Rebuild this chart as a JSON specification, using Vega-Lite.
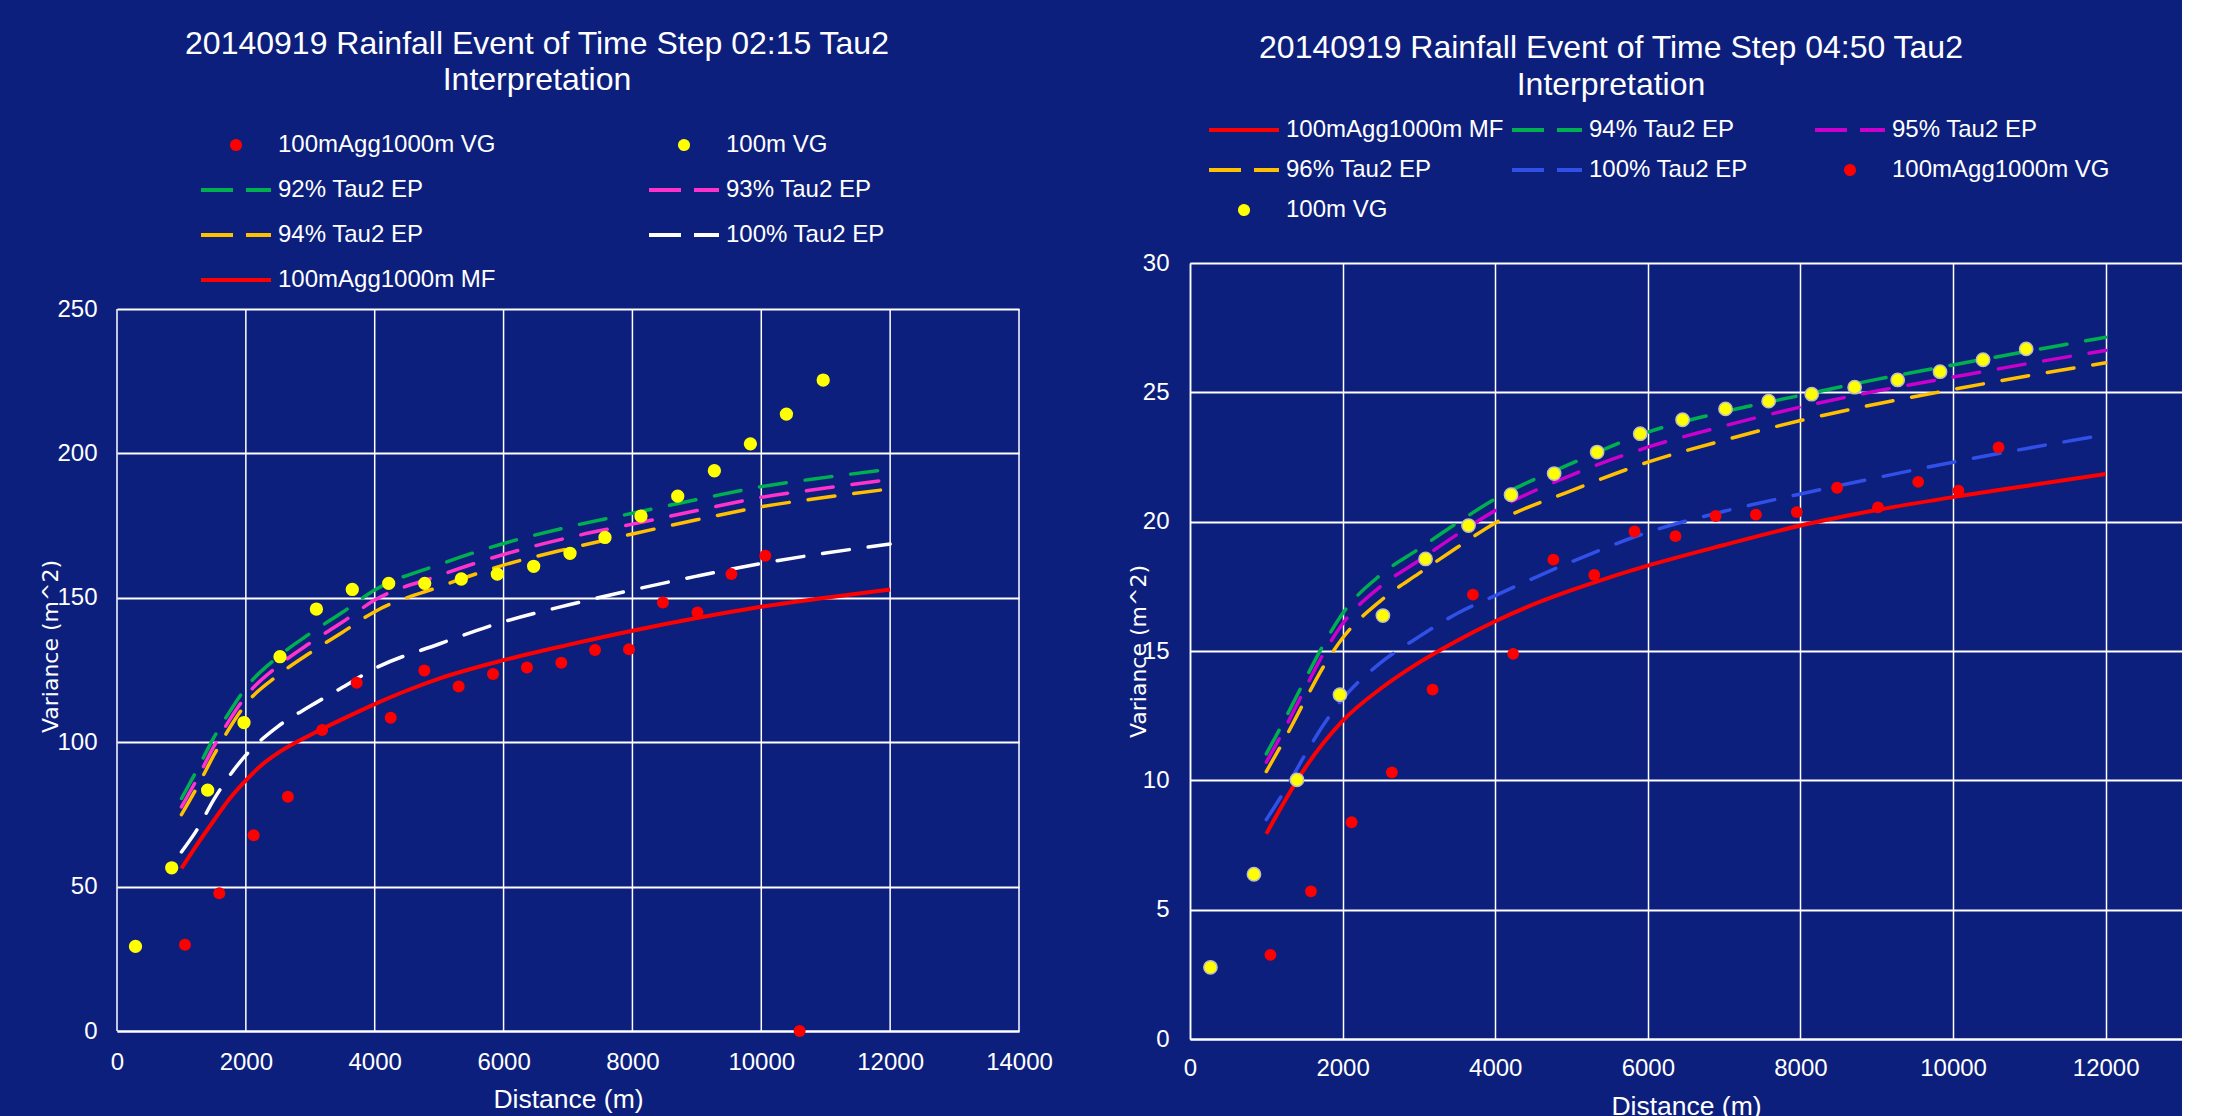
{
  "$schema": "https://vega.github.io/schema/vega-lite/v6.json",
  "background": "#0D1F7D",
  "padding": {"left": 39, "top": 28, "right": 0, "bottom": 0},
  "config": {
    "view": {"stroke": null},
    "font": "Liberation Sans",
    "axis": {
      "labelColor": "#FFFFFF", "titleColor": "#FFFFFF", "labelFont": "Liberation Sans", "labelFontSize": 24,
      "titleFont": "Liberation Sans", "titleFontWeight": "normal", "ticks": false, "tickSize": 0,
      "gridColor": "#FFFFFF", "domainColor": "#FFFFFF", "labelFlush": false, "labelOverlap": false
    },
    "title": {"color": "#FFFFFF", "font": "Liberation Sans", "fontSize": 32, "fontWeight": "normal", "anchor": "middle", "frame": "group"},
    "legend": {"labelColor": "#FFFFFF", "labelFont": "Liberation Sans", "labelFontSize": 24, "labelLimit": 600, "labelOffset": 30, "symbolSize": 400, "symbolStrokeWidth": 4, "symbolType": "M-3.5,0H3.5", "title": null, "gridAlign": "all"}
  },
  "datasets": {
    "left": [
      {"s": "grid", "d": 0, "v": 0}, {"s": "grid", "d": 0, "v": 250}, {"s": "grid", "d": 2000, "v": 0}, {"s": "grid", "d": 2000, "v": 250}, {"s": "grid", "d": 4000, "v": 0}, {"s": "grid", "d": 4000, "v": 250}, {"s": "grid", "d": 6000, "v": 0}, {"s": "grid", "d": 6000, "v": 250}, {"s": "grid", "d": 8000, "v": 0}, {"s": "grid", "d": 8000, "v": 250}, {"s": "grid", "d": 10000, "v": 0}, {"s": "grid", "d": 10000, "v": 250}, {"s": "grid", "d": 12000, "v": 0}, {"s": "grid", "d": 12000, "v": 250}, {"s": "grid", "d": 14000, "v": 0}, {"s": "grid", "d": 14000, "v": 250},
      {"s": "100m VG", "d": 287, "v": 29.3}, {"s": "100m VG", "d": 849, "v": 56.5}, {"s": "100m VG", "d": 1407, "v": 83.4}, {"s": "100m VG", "d": 1971, "v": 106.8}, {"s": "100m VG", "d": 2530, "v": 129.6}, {"s": "100m VG", "d": 3095, "v": 146.1}, {"s": "100m VG", "d": 3652, "v": 152.9}, {"s": "100m VG", "d": 4217, "v": 155.0}, {"s": "100m VG", "d": 4776, "v": 155.0}, {"s": "100m VG", "d": 5344, "v": 156.5}, {"s": "100m VG", "d": 5903, "v": 158.2}, {"s": "100m VG", "d": 6467, "v": 160.9}, {"s": "100m VG", "d": 7031, "v": 165.4}, {"s": "100m VG", "d": 7574, "v": 170.9}, {"s": "100m VG", "d": 8133, "v": 178.3}, {"s": "100m VG", "d": 8703, "v": 185.2}, {"s": "100m VG", "d": 9272, "v": 194.0}, {"s": "100m VG", "d": 9831, "v": 203.3}, {"s": "100m VG", "d": 10390, "v": 213.6}, {"s": "100m VG", "d": 10961, "v": 225.4},
      {"s": "100mAgg1000m VG", "d": 1055, "v": 29.9}, {"s": "100mAgg1000m VG", "d": 1588, "v": 47.7}, {"s": "100mAgg1000m VG", "d": 2121, "v": 67.8}, {"s": "100mAgg1000m VG", "d": 2652, "v": 81.1}, {"s": "100mAgg1000m VG", "d": 3184, "v": 104.2}, {"s": "100mAgg1000m VG", "d": 3720, "v": 120.6}, {"s": "100mAgg1000m VG", "d": 4248, "v": 108.5}, {"s": "100mAgg1000m VG", "d": 4770, "v": 124.8}, {"s": "100mAgg1000m VG", "d": 5303, "v": 119.3}, {"s": "100mAgg1000m VG", "d": 5836, "v": 123.6}, {"s": "100mAgg1000m VG", "d": 6363, "v": 125.9}, {"s": "100mAgg1000m VG", "d": 6896, "v": 127.5}, {"s": "100mAgg1000m VG", "d": 7419, "v": 131.9}, {"s": "100mAgg1000m VG", "d": 7947, "v": 132.2}, {"s": "100mAgg1000m VG", "d": 8473, "v": 148.4}, {"s": "100mAgg1000m VG", "d": 9010, "v": 144.9}, {"s": "100mAgg1000m VG", "d": 9536, "v": 158.2}, {"s": "100mAgg1000m VG", "d": 10062, "v": 164.6}, {"s": "100mAgg1000m VG", "d": 10595, "v": 0},
      {"s": "92% Tau2 EP", "d": 1000, "v": 80.5}, {"s": "92% Tau2 EP", "d": 1250, "v": 90.7}, {"s": "92% Tau2 EP", "d": 1500, "v": 101.5}, {"s": "92% Tau2 EP", "d": 1750, "v": 110.6}, {"s": "92% Tau2 EP", "d": 2000, "v": 118.8}, {"s": "92% Tau2 EP", "d": 2500, "v": 129.6}, {"s": "92% Tau2 EP", "d": 3000, "v": 137.7}, {"s": "92% Tau2 EP", "d": 3500, "v": 145.0}, {"s": "92% Tau2 EP", "d": 4000, "v": 152.7}, {"s": "92% Tau2 EP", "d": 5000, "v": 161.5}, {"s": "92% Tau2 EP", "d": 6000, "v": 168.8}, {"s": "92% Tau2 EP", "d": 7000, "v": 174.5}, {"s": "92% Tau2 EP", "d": 8000, "v": 179.3}, {"s": "92% Tau2 EP", "d": 9000, "v": 184.0}, {"s": "92% Tau2 EP", "d": 10000, "v": 188.5}, {"s": "92% Tau2 EP", "d": 11000, "v": 191.7}, {"s": "92% Tau2 EP", "d": 12000, "v": 194.5},
      {"s": "93% Tau2 EP", "d": 1000, "v": 77.6}, {"s": "93% Tau2 EP", "d": 1250, "v": 87.6}, {"s": "93% Tau2 EP", "d": 1500, "v": 98.4}, {"s": "93% Tau2 EP", "d": 1750, "v": 107.8}, {"s": "93% Tau2 EP", "d": 2000, "v": 115.9}, {"s": "93% Tau2 EP", "d": 2500, "v": 126.4}, {"s": "93% Tau2 EP", "d": 3000, "v": 134.4}, {"s": "93% Tau2 EP", "d": 3500, "v": 141.6}, {"s": "93% Tau2 EP", "d": 4000, "v": 149.2}, {"s": "93% Tau2 EP", "d": 5000, "v": 157.7}, {"s": "93% Tau2 EP", "d": 6000, "v": 165.0}, {"s": "93% Tau2 EP", "d": 7000, "v": 170.8}, {"s": "93% Tau2 EP", "d": 8000, "v": 175.5}, {"s": "93% Tau2 EP", "d": 9000, "v": 180.2}, {"s": "93% Tau2 EP", "d": 10000, "v": 184.8}, {"s": "93% Tau2 EP", "d": 11000, "v": 188.0}, {"s": "93% Tau2 EP", "d": 12000, "v": 191.0},
      {"s": "94% Tau2 EP", "d": 1000, "v": 74.9}, {"s": "94% Tau2 EP", "d": 1250, "v": 84.7}, {"s": "94% Tau2 EP", "d": 1500, "v": 95.4}, {"s": "94% Tau2 EP", "d": 1750, "v": 105.0}, {"s": "94% Tau2 EP", "d": 2000, "v": 113.2}, {"s": "94% Tau2 EP", "d": 2500, "v": 123.2}, {"s": "94% Tau2 EP", "d": 3000, "v": 131.0}, {"s": "94% Tau2 EP", "d": 3500, "v": 138.1}, {"s": "94% Tau2 EP", "d": 4000, "v": 145.2}, {"s": "94% Tau2 EP", "d": 5000, "v": 153.8}, {"s": "94% Tau2 EP", "d": 6000, "v": 161.3}, {"s": "94% Tau2 EP", "d": 7000, "v": 167.0}, {"s": "94% Tau2 EP", "d": 8000, "v": 172.1}, {"s": "94% Tau2 EP", "d": 9000, "v": 177.0}, {"s": "94% Tau2 EP", "d": 10000, "v": 181.5}, {"s": "94% Tau2 EP", "d": 11000, "v": 184.8}, {"s": "94% Tau2 EP", "d": 12000, "v": 187.7},
      {"s": "100% Tau2 EP", "d": 1000, "v": 62.0}, {"s": "100% Tau2 EP", "d": 1250, "v": 70.0}, {"s": "100% Tau2 EP", "d": 1500, "v": 80.0}, {"s": "100% Tau2 EP", "d": 1750, "v": 88.5}, {"s": "100% Tau2 EP", "d": 2000, "v": 95.5}, {"s": "100% Tau2 EP", "d": 2500, "v": 105.5}, {"s": "100% Tau2 EP", "d": 3000, "v": 112.5}, {"s": "100% Tau2 EP", "d": 3500, "v": 119.0}, {"s": "100% Tau2 EP", "d": 4000, "v": 125.5}, {"s": "100% Tau2 EP", "d": 5000, "v": 134.0}, {"s": "100% Tau2 EP", "d": 6000, "v": 141.7}, {"s": "100% Tau2 EP", "d": 7000, "v": 147.5}, {"s": "100% Tau2 EP", "d": 8000, "v": 152.7}, {"s": "100% Tau2 EP", "d": 9000, "v": 157.5}, {"s": "100% Tau2 EP", "d": 10000, "v": 161.9}, {"s": "100% Tau2 EP", "d": 11000, "v": 165.5}, {"s": "100% Tau2 EP", "d": 12000, "v": 168.6},
      {"s": "100mAgg1000m MF", "d": 1000, "v": 56.3}, {"s": "100mAgg1000m MF", "d": 1250, "v": 64.8}, {"s": "100mAgg1000m MF", "d": 1500, "v": 72.8}, {"s": "100mAgg1000m MF", "d": 1750, "v": 80.5}, {"s": "100mAgg1000m MF", "d": 2000, "v": 86.8}, {"s": "100mAgg1000m MF", "d": 2250, "v": 92.2}, {"s": "100mAgg1000m MF", "d": 2500, "v": 96.3}, {"s": "100mAgg1000m MF", "d": 3000, "v": 102.5}, {"s": "100mAgg1000m MF", "d": 3500, "v": 108.0}, {"s": "100mAgg1000m MF", "d": 4000, "v": 113.2}, {"s": "100mAgg1000m MF", "d": 4500, "v": 117.9}, {"s": "100mAgg1000m MF", "d": 5000, "v": 122.0}, {"s": "100mAgg1000m MF", "d": 6000, "v": 128.4}, {"s": "100mAgg1000m MF", "d": 7000, "v": 133.7}, {"s": "100mAgg1000m MF", "d": 8000, "v": 138.6}, {"s": "100mAgg1000m MF", "d": 9000, "v": 143.0}, {"s": "100mAgg1000m MF", "d": 10000, "v": 146.9}, {"s": "100mAgg1000m MF", "d": 11000, "v": 150.0}, {"s": "100mAgg1000m MF", "d": 12000, "v": 152.9}
    ],
    "right": [
      {"s": "100m VG", "d": 268, "v": 2.77}, {"s": "100m VG", "d": 838, "v": 6.37}, {"s": "100m VG", "d": 1402, "v": 10.02}, {"s": "100m VG", "d": 1965, "v": 13.31}, {"s": "100m VG", "d": 2528, "v": 16.37}, {"s": "100m VG", "d": 3087, "v": 18.56}, {"s": "100m VG", "d": 3650, "v": 19.85}, {"s": "100m VG", "d": 4207, "v": 21.04}, {"s": "100m VG", "d": 4772, "v": 21.86}, {"s": "100m VG", "d": 5335, "v": 22.69}, {"s": "100m VG", "d": 5900, "v": 23.40}, {"s": "100m VG", "d": 6455, "v": 23.94}, {"s": "100m VG", "d": 7018, "v": 24.36}, {"s": "100m VG", "d": 7583, "v": 24.66}, {"s": "100m VG", "d": 8147, "v": 24.93}, {"s": "100m VG", "d": 8710, "v": 25.20}, {"s": "100m VG", "d": 9274, "v": 25.48}, {"s": "100m VG", "d": 9829, "v": 25.80}, {"s": "100m VG", "d": 10393, "v": 26.26}, {"s": "100m VG", "d": 10958, "v": 26.68},
      {"s": "100mAgg1000m VG", "d": 1054, "v": 3.25}, {"s": "100mAgg1000m VG", "d": 1585, "v": 5.71}, {"s": "100mAgg1000m VG", "d": 2118, "v": 8.38}, {"s": "100mAgg1000m VG", "d": 2646, "v": 10.31}, {"s": "100mAgg1000m VG", "d": 3179, "v": 13.51}, {"s": "100mAgg1000m VG", "d": 3707, "v": 17.18}, {"s": "100mAgg1000m VG", "d": 4235, "v": 14.89}, {"s": "100mAgg1000m VG", "d": 4762, "v": 18.53}, {"s": "100mAgg1000m VG", "d": 5298, "v": 17.94}, {"s": "100mAgg1000m VG", "d": 5825, "v": 19.62}, {"s": "100mAgg1000m VG", "d": 6362, "v": 19.44}, {"s": "100mAgg1000m VG", "d": 6888, "v": 20.22}, {"s": "100mAgg1000m VG", "d": 7416, "v": 20.27}, {"s": "100mAgg1000m VG", "d": 7952, "v": 20.37}, {"s": "100mAgg1000m VG", "d": 8480, "v": 21.31}, {"s": "100mAgg1000m VG", "d": 9016, "v": 20.55}, {"s": "100mAgg1000m VG", "d": 9543, "v": 21.54}, {"s": "100mAgg1000m VG", "d": 10070, "v": 21.20}, {"s": "100mAgg1000m VG", "d": 10596, "v": 22.87},
      {"s": "94% Tau2 EP", "d": 1000, "v": 11.02}, {"s": "94% Tau2 EP", "d": 1250, "v": 12.4}, {"s": "94% Tau2 EP", "d": 1500, "v": 13.85}, {"s": "94% Tau2 EP", "d": 1750, "v": 15.25}, {"s": "94% Tau2 EP", "d": 2000, "v": 16.45}, {"s": "94% Tau2 EP", "d": 2500, "v": 17.95}, {"s": "94% Tau2 EP", "d": 3000, "v": 18.95}, {"s": "94% Tau2 EP", "d": 3500, "v": 19.95}, {"s": "94% Tau2 EP", "d": 4000, "v": 20.88}, {"s": "94% Tau2 EP", "d": 5000, "v": 22.25}, {"s": "94% Tau2 EP", "d": 6000, "v": 23.46}, {"s": "94% Tau2 EP", "d": 7000, "v": 24.25}, {"s": "94% Tau2 EP", "d": 8000, "v": 24.88}, {"s": "94% Tau2 EP", "d": 9000, "v": 25.5}, {"s": "94% Tau2 EP", "d": 10000, "v": 26.06}, {"s": "94% Tau2 EP", "d": 11000, "v": 26.6}, {"s": "94% Tau2 EP", "d": 12000, "v": 27.13},
      {"s": "95% Tau2 EP", "d": 1000, "v": 10.70}, {"s": "95% Tau2 EP", "d": 1250, "v": 12.05}, {"s": "95% Tau2 EP", "d": 1500, "v": 13.5}, {"s": "95% Tau2 EP", "d": 1750, "v": 14.9}, {"s": "95% Tau2 EP", "d": 2000, "v": 16.05}, {"s": "95% Tau2 EP", "d": 2500, "v": 17.5}, {"s": "95% Tau2 EP", "d": 3000, "v": 18.5}, {"s": "95% Tau2 EP", "d": 3500, "v": 19.5}, {"s": "95% Tau2 EP", "d": 4000, "v": 20.43}, {"s": "95% Tau2 EP", "d": 5000, "v": 21.8}, {"s": "95% Tau2 EP", "d": 6000, "v": 22.88}, {"s": "95% Tau2 EP", "d": 7000, "v": 23.7}, {"s": "95% Tau2 EP", "d": 8000, "v": 24.43}, {"s": "95% Tau2 EP", "d": 9000, "v": 25.05}, {"s": "95% Tau2 EP", "d": 10000, "v": 25.59}, {"s": "95% Tau2 EP", "d": 11000, "v": 26.12}, {"s": "95% Tau2 EP", "d": 12000, "v": 26.62},
      {"s": "96% Tau2 EP", "d": 1000, "v": 10.34}, {"s": "96% Tau2 EP", "d": 1250, "v": 11.65}, {"s": "96% Tau2 EP", "d": 1500, "v": 13.05}, {"s": "96% Tau2 EP", "d": 1750, "v": 14.4}, {"s": "96% Tau2 EP", "d": 2000, "v": 15.5}, {"s": "96% Tau2 EP", "d": 2500, "v": 16.95}, {"s": "96% Tau2 EP", "d": 3000, "v": 18.0}, {"s": "96% Tau2 EP", "d": 3500, "v": 19.0}, {"s": "96% Tau2 EP", "d": 4000, "v": 19.95}, {"s": "96% Tau2 EP", "d": 5000, "v": 21.2}, {"s": "96% Tau2 EP", "d": 6000, "v": 22.3}, {"s": "96% Tau2 EP", "d": 7000, "v": 23.15}, {"s": "96% Tau2 EP", "d": 8000, "v": 23.91}, {"s": "96% Tau2 EP", "d": 9000, "v": 24.55}, {"s": "96% Tau2 EP", "d": 10000, "v": 25.11}, {"s": "96% Tau2 EP", "d": 11000, "v": 25.65}, {"s": "96% Tau2 EP", "d": 12000, "v": 26.14},
      {"s": "100% Tau2 EP", "d": 1000, "v": 8.48}, {"s": "100% Tau2 EP", "d": 1250, "v": 9.65}, {"s": "100% Tau2 EP", "d": 1500, "v": 10.95}, {"s": "100% Tau2 EP", "d": 1750, "v": 12.15}, {"s": "100% Tau2 EP", "d": 2000, "v": 13.15}, {"s": "100% Tau2 EP", "d": 2500, "v": 14.55}, {"s": "100% Tau2 EP", "d": 3000, "v": 15.55}, {"s": "100% Tau2 EP", "d": 3500, "v": 16.45}, {"s": "100% Tau2 EP", "d": 4000, "v": 17.14}, {"s": "100% Tau2 EP", "d": 5000, "v": 18.45}, {"s": "100% Tau2 EP", "d": 6000, "v": 19.59}, {"s": "100% Tau2 EP", "d": 7000, "v": 20.4}, {"s": "100% Tau2 EP", "d": 8000, "v": 21.07}, {"s": "100% Tau2 EP", "d": 9000, "v": 21.7}, {"s": "100% Tau2 EP", "d": 10000, "v": 22.3}, {"s": "100% Tau2 EP", "d": 11000, "v": 22.85}, {"s": "100% Tau2 EP", "d": 12000, "v": 23.36},
      {"s": "100mAgg1000m MF", "d": 1000, "v": 7.93}, {"s": "100mAgg1000m MF", "d": 1250, "v": 9.24}, {"s": "100mAgg1000m MF", "d": 1500, "v": 10.44}, {"s": "100mAgg1000m MF", "d": 1750, "v": 11.45}, {"s": "100mAgg1000m MF", "d": 2000, "v": 12.3}, {"s": "100mAgg1000m MF", "d": 2500, "v": 13.55}, {"s": "100mAgg1000m MF", "d": 3000, "v": 14.55}, {"s": "100mAgg1000m MF", "d": 3500, "v": 15.4}, {"s": "100mAgg1000m MF", "d": 4000, "v": 16.15}, {"s": "100mAgg1000m MF", "d": 4500, "v": 16.8}, {"s": "100mAgg1000m MF", "d": 5000, "v": 17.35}, {"s": "100mAgg1000m MF", "d": 5500, "v": 17.85}, {"s": "100mAgg1000m MF", "d": 6000, "v": 18.3}, {"s": "100mAgg1000m MF", "d": 7000, "v": 19.1}, {"s": "100mAgg1000m MF", "d": 8000, "v": 19.85}, {"s": "100mAgg1000m MF", "d": 9000, "v": 20.45}, {"s": "100mAgg1000m MF", "d": 10000, "v": 20.95}, {"s": "100mAgg1000m MF", "d": 11000, "v": 21.4}, {"s": "100mAgg1000m MF", "d": 12000, "v": 21.84}
    ]
  },
  "hconcat": [
    {
      "width": 902,
      "height": 768,
      "title": {"text": ["20140919 Rainfall Event of Time Step 02:15 Tau2", "Interpretation"], "dx": -31, "offset": 36, "lineHeight": 36},
      "data": {"name": "left"},
      "encoding": {
        "x": {"field": "d", "type": "quantitative", "scale": {"domain": [0, 14000], "nice": false, "zero": false},
          "axis": {"values": [0, 2000, 4000, 6000, 8000, 10000, 12000, 14000], "format": "d", "grid": false, "title": "Distance (m)", "titleFontSize": 26.5, "titlePadding": 12, "labelPadding": 19, "domainWidth": 2}},
        "y": {"field": "v", "type": "quantitative", "scale": {"domain": [0, 250], "nice": false, "range": [768, 46]},
          "axis": {"values": [0, 50, 100, 150, 200, 250], "domain": false, "title": "Variance (m^2)", "titleFont": "DejaVu Sans", "titleFontSize": 22, "titleX": -67, "titleY": 383, "titleBaseline": "middle", "titleAlign": "center", "labelPadding": 20, "gridWidth": 2}},
        "color": {"field": "s", "type": "nominal",
          "scale": {"domain": ["100mAgg1000m VG", "100m VG", "92% Tau2 EP", "93% Tau2 EP", "94% Tau2 EP", "100% Tau2 EP", "100mAgg1000m MF"],
                    "range": ["#FF0000", "#FFFF00", "#00B050", "#FF33CC", "#FFC000", "#FFFFFF", "#FF0000"]},
          "legend": {"orient": "none", "legendX": 107, "legendY": -130, "direction": "horizontal", "columns": 2, "columnPadding": 145, "rowPadding": 21,
            "encode": {"symbols": {"update": {
              "shape": {"signal": "indexof(datum.value, 'VG') >= 0 ? 'M-0.4,0A0.4,0.4,0,1,1,0.4,0A0.4,0.4,0,1,1,-0.4,0Z' : 'M-3.5,0H3.5'"},
              "fill": {"signal": "datum.value == '100m VG' ? '#FFFF00' : datum.value == '100mAgg1000m VG' ? '#FF0000' : 'transparent'"},
              "stroke": {"signal": "datum.value == '92% Tau2 EP' ? '#00B050' : datum.value == '93% Tau2 EP' ? '#FF33CC' : datum.value == '94% Tau2 EP' ? '#FFC000' : datum.value == '100% Tau2 EP' ? '#FFFFFF' : datum.value == '100m VG' ? '#FFFF00' : '#FF0000'"},
              "strokeDash": {"signal": "indexof(datum.value, 'EP') >= 0 ? [32, 13] : [1, 0]"},
              "opacity": {"value": 1}
            }}}}
        }
      },
      "layer": [
        {"transform": [{"filter": "datum.s == 'grid'"}], "mark": {"type": "line", "strokeWidth": 1.5}, "encoding": {"detail": {"field": "d", "type": "nominal"}, "color": {"value": "#FFFFFF"}}},
        {"transform": [{"filter": "indexof(datum.s, 'EP') >= 0"}], "mark": {"type": "line", "strokeWidth": 3.5, "strokeDash": [27, 19], "strokeCap": "round", "interpolate": "monotone"}},
        {"transform": [{"filter": "datum.s == '100mAgg1000m MF'"}], "mark": {"type": "line", "strokeWidth": 4, "interpolate": "monotone"}},
        {"transform": [{"filter": "datum.s == '100mAgg1000m VG'"}], "mark": {"type": "circle", "size": 144, "opacity": 1}},
        {"transform": [{"filter": "datum.s == '100m VG'"}], "mark": {"type": "circle", "size": 177, "opacity": 1}}
      ]
    },
    {
      "width": 992,
      "height": 776,
      "title": {"text": ["20140919 Rainfall Event of Time Step 04:50 Tau2", "Interpretation"], "dx": -75, "offset": 16, "lineHeight": 37},
      "data": {"name": "right"},
      "encoding": {
        "x": {"field": "d", "type": "quantitative", "scale": {"domain": [0, 13000], "nice": false, "zero": false},
          "axis": {"values": [0, 2000, 4000, 6000, 8000, 10000, 12000], "format": "d", "title": "Distance (m)", "titleFontSize": 26.5, "titlePadding": 13, "labelPadding": 17, "gridWidth": 1.5, "domainWidth": 2}},
        "y": {"field": "v", "type": "quantitative", "scale": {"domain": [0, 30], "nice": false},
          "axis": {"values": [0, 5, 10, 15, 20, 25, 30], "title": "Variance (m^2)", "titleFont": "DejaVu Sans", "titleFontSize": 22, "titleX": -52, "titleY": 388, "titleBaseline": "middle", "titleAlign": "center", "labelPadding": 21, "gridWidth": 2, "domainWidth": 1.5}},
        "color": {"field": "s", "type": "nominal",
          "scale": {"domain": ["100mAgg1000m MF", "94% Tau2 EP", "95% Tau2 EP", "96% Tau2 EP", "100% Tau2 EP", "100mAgg1000m VG", "100m VG"],
                    "range": ["#FF0000", "#00B050", "#CC00CC", "#FFC000", "#3050E8", "#FF0000", "#FFFF00"]},
          "legend": {"orient": "none", "legendX": 42, "legendY": -145, "direction": "horizontal", "columns": 3, "columnPadding": 0, "rowPadding": 16,
            "encode": {"symbols": {"update": {
              "shape": {"signal": "indexof(datum.value, 'VG') >= 0 ? 'M-0.4,0A0.4,0.4,0,1,1,0.4,0A0.4,0.4,0,1,1,-0.4,0Z' : 'M-3.5,0H3.5'"},
              "fill": {"signal": "datum.value == '100m VG' ? '#FFFF00' : datum.value == '100mAgg1000m VG' ? '#FF0000' : 'transparent'"},
              "stroke": {"signal": "datum.value == '94% Tau2 EP' ? '#00B050' : datum.value == '95% Tau2 EP' ? '#CC00CC' : datum.value == '96% Tau2 EP' ? '#FFC000' : datum.value == '100% Tau2 EP' ? '#3050E8' : datum.value == '100m VG' ? '#FFFF00' : '#FF0000'"},
              "strokeDash": {"signal": "indexof(datum.value, 'EP') >= 0 ? [32, 13] : [1, 0]"},
              "opacity": {"value": 1}
            }}}}
        }
      },
      "layer": [
        {"transform": [{"filter": "indexof(datum.s, 'EP') >= 0"}], "mark": {"type": "line", "strokeWidth": 3.5, "strokeDash": [27, 19], "strokeCap": "round", "interpolate": "monotone"}},
        {"transform": [{"filter": "datum.s == '100mAgg1000m MF'"}], "mark": {"type": "line", "strokeWidth": 4, "interpolate": "monotone"}},
        {"transform": [{"filter": "datum.s == '100mAgg1000m VG'"}], "mark": {"type": "circle", "size": 140, "opacity": 1}},
        {"transform": [{"filter": "datum.s == '100m VG'"}], "mark": {"type": "circle", "size": 177, "opacity": 1, "stroke": "#BFBFBF", "strokeWidth": 1.5}}
      ]
    }
  ],
  "spacing": 74,
  "bounds": "full",
  "resolve": {"scale": {"color": "independent", "x": "independent", "y": "independent"}, "legend": {"color": "independent"}}
}
